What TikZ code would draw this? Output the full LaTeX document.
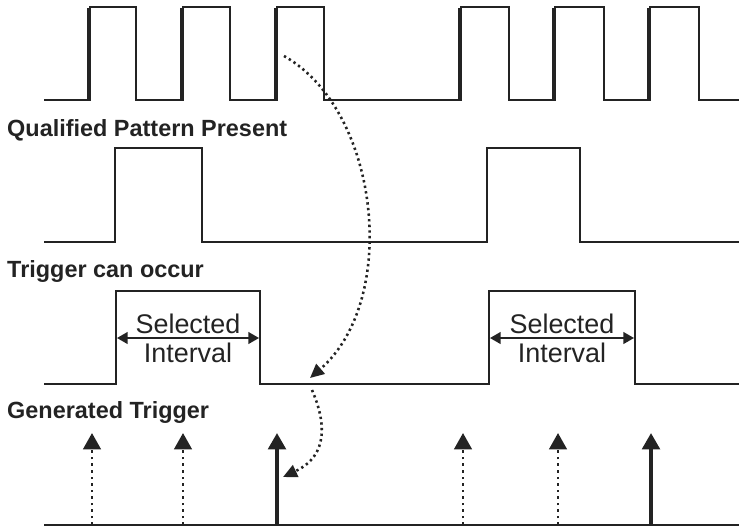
\documentclass[tikz,border=0pt]{standalone}
\usepackage{fontspec}
\setmainfont{Liberation Sans}
\usepackage{tikz}
\usetikzlibrary{positioning,arrows.meta}
\usepackage{xcolor}
\definecolor{ink}{RGB}{35,35,35}

\tikzset{
  sig/.style={draw=ink,line width=1.6pt,line join=miter},
  edge/.style={draw=ink,line width=3.2pt},
  lbl/.style={anchor=base west,inner sep=0pt,text=ink,font=\fontsize{20}{24}\selectfont\bfseries},
  sel/.style={anchor=base,inner sep=0pt,text=ink,font=\fontsize{23}{27}\selectfont},
  span/.style={draw=ink,line width=1.4pt,{Triangle[width=10pt,length=9pt]}-{Triangle[width=10pt,length=9pt]}},
  cand/.style={draw=ink,line width=2.4pt,dash pattern=on 2.2pt off 3.4pt,-{Triangle[width=15pt,length=14pt]}},
  fired/.style={draw=ink,line width=3.2pt,-{Triangle[width=15pt,length=14pt]}},
  hop/.style={draw=ink,line width=2.2pt,dash pattern=on 2pt off 2.8pt,-{Triangle[width=11pt,length=12pt]}}
}

\begin{document}
\begin{tikzpicture}[x=0.03cm,y=-0.03cm]
\useasboundingbox (0,0) rectangle (739,527);

% input pattern
\draw[sig] (44,100) -| (90,7) -| (136,100) -| (183,7) -| (230,100) -| (277,7) -| (324,100)
  -| (461,7) -| (509,100) -| (555,7) -| (604,100) -| (650,7) -| (699,100) -- (739,100);
\foreach \x in {90,183,277,461,555,650}
  \draw[edge] (\x-1,8) -- (\x-1,100);

% qualified pattern
\node[lbl] (qual) at (7,136) {Qualified Pattern Present};
\draw[sig] (44,242) -| (115,148) -| (202,242) -| (487,148) -| (580,242) -- (739,242);

% trigger window
\node[lbl] (can) at (7,277) {Trigger can occur};
\draw[sig] (44,384) -| (116,291) -| (260,384) -| (489,291) -| (635,384) -- (739,384);

\foreach \a/\b/\m [count=\i] in {117/259/188,490/634/562}{
  \node[sel] (selA\i) at (\m,333) {Selected};
  \node[sel] (intA\i) at (\m,362) {Interval};
  \coordinate (lo\i) at (\a,338);
  \coordinate (hi\i) at (\b,338);
  \draw[span] (lo\i) -- (hi\i);
}

% triggers
\node[lbl] (gen) at (7,418) {Generated Trigger};
\draw[sig] (44,525) -- (739,525);
\foreach \x/\kind in {92/cand,183/cand,277/fired,463/cand,558/cand,651/fired}{
  \coordinate (foot\x) at (\x,525);
  \coordinate (head\x) at (\x,433);
  \draw[\kind] (foot\x) -- (head\x);
}

% dotted hops
\coordinate (src) at (284,56);
\coordinate (gate) at (310,378);
\coordinate (gout) at (312,390);
\coordinate (fire) at (283,477);
\draw[hop] (src) .. controls (380,110) and (400,300) .. (gate);
\draw[hop] (gout) .. controls (325,420) and (330,455) .. (fire);
\end{tikzpicture}
\end{document}
